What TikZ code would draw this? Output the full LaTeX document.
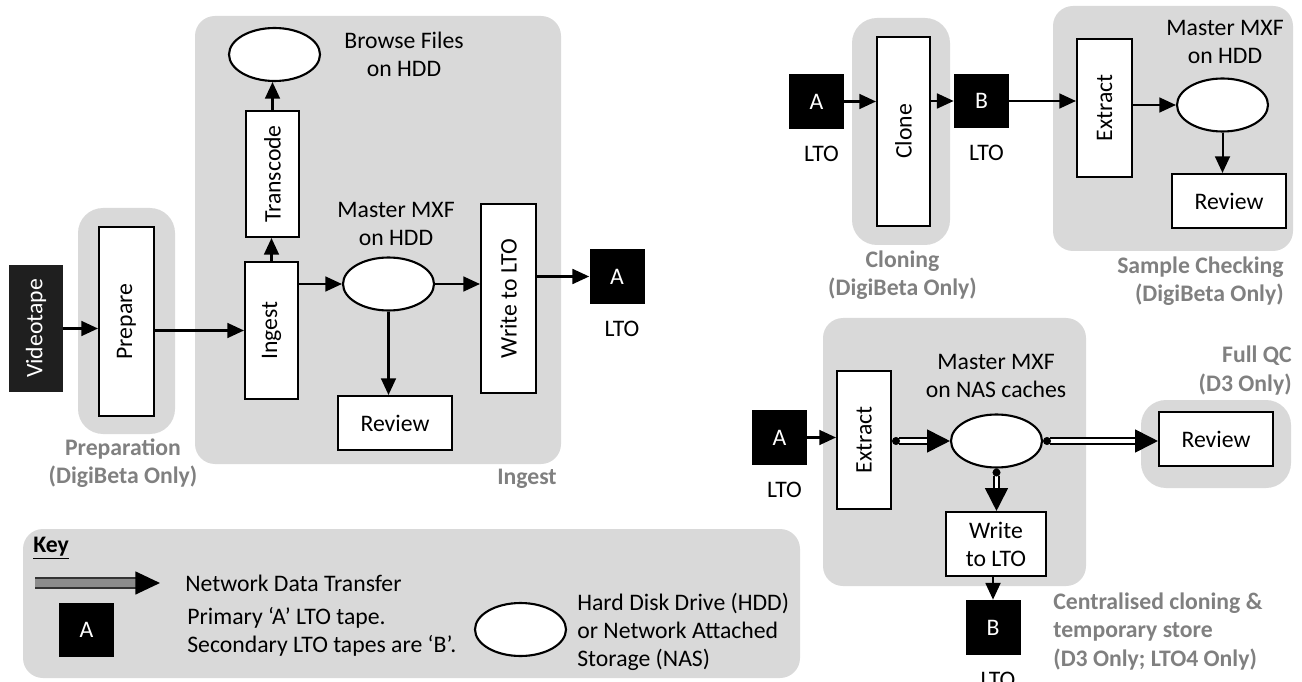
\documentclass[tikz,border=0pt]{standalone}
\usepackage{fontspec}
\setmainfont{Carlito}
\usetikzlibrary{arrows.meta,shapes.geometric,positioning}
\newcommand{\diagfont}{\fontsize{13.5}{16}\selectfont}
\tikzset{>=Triangle}
\tikzstyle{procbox}=[rectangle,draw=black,fill=white,line width=1.2pt,inner sep=0pt]
\tikzstyle{lto}=[rectangle,fill=black,text=white,minimum width=1.1cm,minimum height=1.1cm,inner sep=0pt]
\tikzstyle{disk}=[ellipse,draw=black,fill=white,line width=1.2pt,minimum width=1.82cm,minimum height=1.06cm,inner sep=0pt]
\tikzstyle{zone}=[fill=black!15,rounded corners=0.4cm]
\tikzstyle{zonelabel}=[text=black!50,font=\diagfont\bfseries,align=center,inner sep=0pt]
\tikzstyle{note}=[inner sep=0pt,align=left,anchor=west]
\tikzstyle{flow}=[line width=1.15pt,-{Triangle[length=9.5pt,width=8.5pt]}]
\tikzstyle{netflow}=[line width=1pt,double=white,double distance=2.2pt,{Circle[length=4.5pt,color=black]}-{Triangle[length=13pt,width=13pt,color=black]}]
\tikzstyle{keyflow}=[line width=1pt,draw=black!80,double=black!45,double distance=4.5pt,-{Triangle[length=14pt,width=13pt,color=black]}]

\begin{document}
\begin{tikzpicture}[x=0.02cm,y=-0.02cm,font=\diagfont]
\useasboundingbox (0,0) rectangle (1302,682);

% grey areas
\fill[zone,rounded corners=0.5cm] (78,208) rectangle (175,434);
\fill[zone] (195,16) rectangle (561,464);
\fill[zone,rounded corners=0.5cm] (852,18) rectangle (950,245);
\fill[zone] (1053,6) rectangle (1293,251);
\fill[zone] (823,318) rectangle (1086,586);
\fill[zone,rounded corners=0.5cm] (1141,400) rectangle (1291,488);
\fill[zone] (23,529) rectangle (800,678);

% preparation and ingest
\node[lto,fill=black!88,minimum width=1.08cm,minimum height=2.54cm] (vt) at (36,328.5) {\rotatebox{90}{Videotape}};
\node[procbox,minimum width=1.1cm,minimum height=3.78cm] (prep) at (126.5,321.5) {\rotatebox{90}{Prepare}};
\node[procbox,minimum width=1.06cm,minimum height=2.74cm] (ingest) at (271.5,330.5) {\rotatebox{90}{Ingest}};
\node[procbox,minimum width=1.06cm,minimum height=2.52cm] (transc) at (272.5,174) {\rotatebox{90}{Transcode}};
\node[disk] (browse) at (274.5,54.5) {};
\node[align=center] (browsetxt) at (404,54) {Browse Files\\on HDD};
\node[disk] (mxf) at (388.5,284) {};
\node[align=center] (mxftxt) at (396,224) {Master MXF\\on HDD};
\node[procbox,minimum width=1.1cm,minimum height=3.78cm] (write) at (508.5,298.5) {\rotatebox{90}{Write to LTO}};
\node[procbox,minimum width=2.28cm,minimum height=1.08cm] (rev1) at (395,423) {Review};
\node[lto] (tA1) at (617,276.5) {A};

\draw[flow] (vt.east) -- (vt.east -| prep.west);
\draw[flow] (prep.east |- ingest.west) -- (ingest.west);
\draw[flow] (ingest.north) -- (ingest.north |- transc.south);
\draw[flow] (transc.north) -- (transc.north |- browse.south);
\draw[flow] (ingest.east |- mxf.west) -- (mxf.west);
\draw[flow] (mxf.east) -- (mxf.east -| write.west);
\draw[flow] (mxf.south) -- (mxf.south |- rev1.north);
\draw[flow] (write.east |- tA1.west) -- (tA1.west);

% cloning and sample checking
\node[lto] (tA2) at (816.5,101.5) {A};
\node[procbox,minimum width=1.06cm,minimum height=3.78cm] (clone) at (903.5,131.5) {\rotatebox{90}{Clone}};
\node[lto] (tB1) at (981.5,101) {B};
\node[procbox,minimum width=1.1cm,minimum height=2.76cm] (extr1) at (1104.5,108) {\rotatebox{90}{Extract}};
\node[disk] (mxf2) at (1222.5,105) {};
\node[align=center] (mxf2txt) at (1225,42) {Master MXF\\on HDD};
\node[procbox,minimum width=2.28cm,minimum height=1.08cm] (rev2) at (1229,201) {Review};

\draw[flow] (tA2.east) -- (tA2.east -| clone.west);
\draw[flow] (clone.east |- tB1.west) -- (tB1.west);
\draw[flow] (tB1.east) -- (tB1.east -| extr1.west);
\draw[flow] (extr1.east |- mxf2.west) -- (mxf2.west);
\draw[flow] (mxf2.south) -- (mxf2.south |- rev2.north);

% centralised cloning and full QC
\node[lto] (tA3) at (779.5,437.5) {A};
\node[procbox,minimum width=1.08cm,minimum height=2.76cm] (extr2) at (864,440) {\rotatebox{90}{Extract}};
\node[disk] (mxf3) at (996.5,441) {};
\node[align=center] (mxf3txt) at (996,376) {Master MXF\\on NAS caches};
\node[procbox,minimum width=2cm,minimum height=1.28cm,align=center] (write2) at (996,544) {Write\\to LTO};
\node[lto] (tB2) at (993,627.5) {B};
\node[procbox,minimum width=2.28cm,minimum height=1.08cm] (rev3) at (1216,439) {Review};

\draw[flow] (tA3.east) -- (tA3.east -| extr2.west);
\draw[netflow] (extr2.east |- mxf3.west) -- (mxf3.west);
\draw[netflow] (mxf3.east) -- (mxf3.east -| rev3.west);
\draw[netflow] (mxf3.south) -- (mxf3.south |- write2.north);
\draw[flow] (write2.south -| tB2.north) -- (tB2.north);

\foreach \t in {tA1,tA2,tB1,tA3,tB2} {
	\node[below=6pt of \t,xshift=0.1cm] (lto-\t) {LTO};
};

% area names
\node[zonelabel] (preplbl) at (123,463) {Preparation\\(DigiBeta Only)};
\node[zonelabel,anchor=east] (inglbl) at (557,479) {Ingest};
\node[zonelabel] (clonelbl) at (902.5,275) {Cloning\\(DigiBeta Only)};
\node[zonelabel,anchor=east,align=right] (samplbl) at (1284,281) {Sample Checking\\(DigiBeta Only)};
\node[zonelabel,anchor=east,align=right] (qclbl) at (1292,370.5) {Full QC\\(D3 Only)};
\node[zonelabel,anchor=west,align=left] (centlbl) at (1053,631.5) {Centralised cloning \&\\temporary store\\(D3 Only; LTO4 Only)};

% key
\node[note,font=\diagfont\bfseries] (keytitle) at (33,548) {\underline{Key}};
\coordinate (ka) at (35,583);
\coordinate (kb) at (160,583);
\draw[keyflow] (ka) -- (kb);
\node[note] (knet) at (185,583) {Network Data Transfer};
\node[lto] (keyA) at (86.5,630) {A};
\node[note] (klto) at (187,632) {Primary ‘A’ LTO tape.\\Secondary LTO tapes are ‘B’.};
\node[disk] (kdisk) at (520.5,629.5) {};
\node[note] (kdisktxt) at (577,631.5) {Hard Disk Drive (HDD)\\or Network Attached\\Storage (NAS)};

\end{tikzpicture}
\end{document}
